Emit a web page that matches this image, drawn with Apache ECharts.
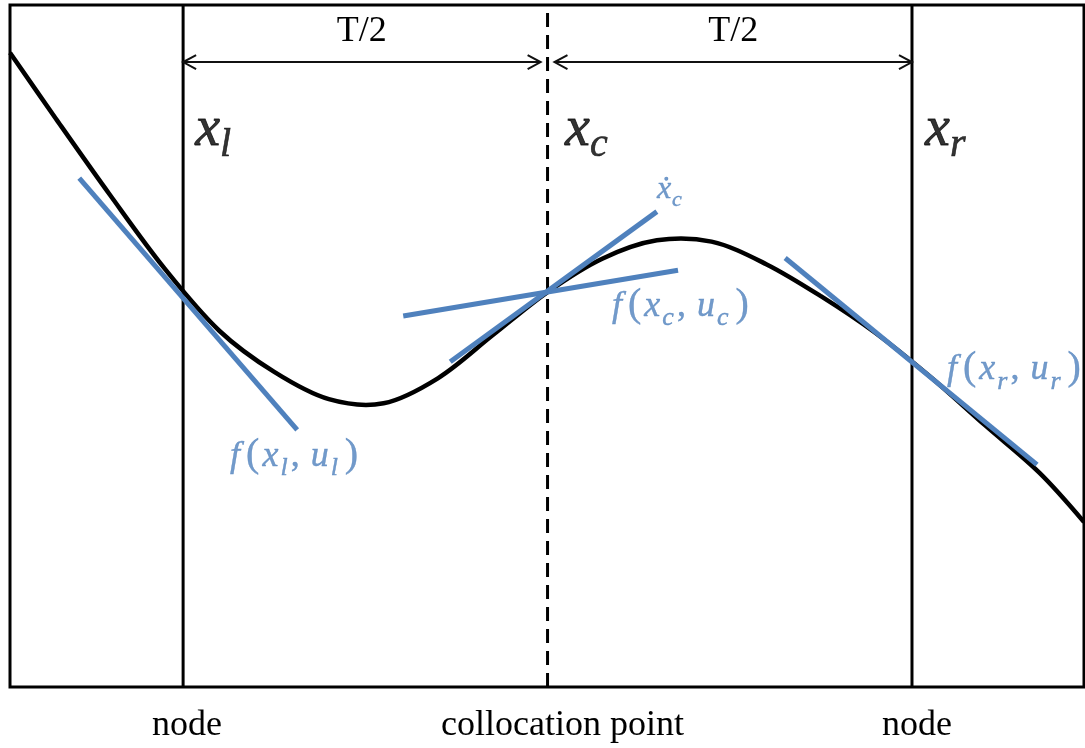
<!DOCTYPE html>
<html>
<head>
<meta charset="utf-8">
<script src="https://cdn.jsdelivr.net/npm/echarts@6/dist/echarts.min.js"></script>
<style>
  html, body { margin: 0; padding: 0; background: #ffffff; }
  #chart { width: 1085px; height: 748px; }
</style>
</head>
<body>
<div id="chart"></div>
<script>
// Time axis in units of T/2: left node = 0, collocation point = 1, right node = 2
const timeRange = [-0.475, 2.472];
const stateRange = [0, 10];

const nodeTimes = [0, 1, 2];
const nodeCaptions = ['node', 'collocation point', 'node'];
const nodeSubscripts = ['l', 'c', 'r'];

// State trajectory x(t)
const trajTime = [-0.475, -0.35, -0.2, -0.05, 0.1, 0.25, 0.4, 0.55, 0.7, 0.85, 1.0,
                  1.15, 1.3, 1.45, 1.6, 1.75, 1.9, 2.05, 2.2, 2.35, 2.472];
const trajState = [9.30, 8.34, 7.21, 6.13, 5.22, 4.62, 4.22, 4.16, 4.53, 5.16, 5.79,
                   6.28, 6.55, 6.53, 6.20, 5.73, 5.19, 4.55, 3.84, 3.14, 2.42];

// Slope segments: dynamics f(x,u) at each node, and the derivative of the interpolant at x_c
const slopeAtLeft   = [[-0.285, 7.46], [0.313, 3.77]];
const slopeAtCenter = [[0.604, 5.44], [1.358, 6.11]];
const derivAtCenter = [[0.733, 4.77], [1.300, 6.97]];
const slopeAtRight  = [[1.652, 6.29], [2.343, 3.26]];

// Interval dimensions [start, end, level]
const spans = [[0, 0.981, 9.164], [1.019, 2, 9.164]];
const spanLabels = ['T/2', 'T/2'];

const BLUE = '#4f81bd';
const INK = '#000000';
const MATH = "'Liberation Serif', 'DejaVu Serif', serif";

const bigRich = {
  v: { fontFamily: MATH, fontStyle: 'italic', fontSize: 56, color: INK, textBorderColor: INK, textBorderWidth: 0.8 },
  s: { fontFamily: MATH, fontStyle: 'italic', fontSize: 40, color: INK, textBorderColor: INK, textBorderWidth: 0.6,
       padding: [32, 0, 0, 0] }
};
const blueLine = { color: BLUE, textBorderColor: BLUE, textBorderWidth: 0.4 };
const blueRich = {
  f: Object.assign({ fontFamily: MATH, fontStyle: 'italic', fontSize: 36, padding: [2.4, 4, 0, 0] }, blueLine),
  v: Object.assign({ fontFamily: MATH, fontStyle: 'italic', fontSize: 36, padding: [2.4, 1, 0, 1] }, blueLine),
  p: Object.assign({ fontFamily: MATH, fontSize: 40, padding: [0, 2, 0, 2] }, blueLine),
  q: Object.assign({ fontFamily: MATH, fontSize: 40, padding: [0, 0, 0, 5] }, blueLine),
  c: Object.assign({ fontFamily: MATH, fontSize: 36, padding: [2.4, 10, 0, 1] }, blueLine),
  s: Object.assign({ fontFamily: MATH, fontStyle: 'italic', fontSize: 26, padding: [26.6, 2, 0, 1] }, blueLine),
  dv: Object.assign({ fontFamily: MATH, fontStyle: 'italic', fontSize: 32 }, blueLine),
  ds: Object.assign({ fontFamily: MATH, fontStyle: 'italic', fontSize: 22, padding: [22, 0, 0, 1] }, blueLine)
};

function stateText(sub) { return '{v|x}{s|' + sub + '}'; }
function dynText(sub) {
  return '{f|f}{p|(}{v|x}{s|' + sub + '}{c|,}{v|u}{s|' + sub + '}{q|)}';
}

const stateLabelAt = [[0.033, 8.17], [1.048, 8.17], [2.036, 8.17]];
const dynLabelAt = [[0.129, 3.40], [1.177, 5.60], [2.096, 4.67]];
const rateLabelAt = [1.300, 7.30];

function segmentSeries(name, pts, color, width, z) {
  return {
    name: name, type: 'line', data: pts, symbol: 'none', z: z, silent: true,
    lineStyle: { color: color, width: width, cap: 'butt' }
  };
}

const nodeLines = nodeTimes.map(function (t, i) {
  return {
    type: 'line', data: [[t, stateRange[0]], [t, stateRange[1]]], symbol: 'none', z: 2, silent: true,
    lineStyle: { color: INK, width: 3, type: i === 1 ? [14, 8] : 'solid', cap: 'butt' }
  };
});

const annotationData = [];
nodeSubscripts.forEach(function (sub, i) {
  annotationData.push({ value: stateLabelAt[i], label: { formatter: stateText(sub), rich: bigRich } });
  annotationData.push({ value: dynLabelAt[i], label: { formatter: dynText(sub), rich: blueRich } });
});
annotationData.push({ value: rateLabelAt, label: { formatter: '{dv|ẋ}{ds|c}', rich: blueRich } });

const captionStyle = { fontFamily: 'Liberation Serif', fontSize: 36, color: INK };

const chart = echarts.init(document.getElementById('chart'));
chart.setOption({
  animation: false,
  backgroundColor: '#ffffff',
  grid: {
    left: 10, right: 1, top: 5, bottom: 61,
    show: true, borderColor: INK, borderWidth: 3, backgroundColor: 'transparent'
  },
  xAxis: {
    type: 'value', min: timeRange[0], max: timeRange[1],
    axisLine: { show: false }, axisTick: { show: false }, splitLine: { show: false },
    axisLabel: {
      customValues: nodeTimes,
      margin: 21,
      formatter: function (v) {
        const i = nodeTimes.indexOf(v);
        return i < 0 ? '' : '{n' + i + '|' + nodeCaptions[i] + '}';
      },
      rich: {
        n0: Object.assign({ padding: [0, 0, 0, 8] }, captionStyle),
        n1: Object.assign({ padding: [0, 0, 0, 30] }, captionStyle),
        n2: Object.assign({ padding: [0, 0, 0, 10] }, captionStyle)
      }
    }
  },
  yAxis: {
    type: 'value', min: stateRange[0], max: stateRange[1],
    axisLine: { show: false }, axisTick: { show: false }, splitLine: { show: false }, axisLabel: { show: false }
  },
  series: nodeLines.concat([
    {
      // trajectory drawn as one spline through the sampled states
      name: 'x(t)', type: 'custom', z: 3, silent: true,
      data: trajTime.map(function (t, i) { return [t, trajState[i]]; }),
      renderItem: function (params, api) {
        if (params.dataIndex !== 0) return null;
        const pts = trajTime.map(function (t, i) { return api.coord([t, trajState[i]]); });
        return {
          type: 'polyline',
          shape: { points: pts, smooth: 0.33 },
          style: { stroke: INK, lineWidth: 4.5, fill: null, lineJoin: 'round' }
        };
      }
    },
    segmentSeries('f(x_l,u_l)', slopeAtLeft, BLUE, 5, 4),
    segmentSeries('f(x_c,u_c)', slopeAtCenter, BLUE, 5, 4),
    segmentSeries('xdot_c', derivAtCenter, BLUE, 5, 4),
    segmentSeries('f(x_r,u_r)', slopeAtRight, BLUE, 5, 4),
    {
      name: 'spans', type: 'custom', z: 5, silent: true,
      data: spans,
      renderItem: function (params, api) {
        const a = api.coord([api.value(0), api.value(2)]);
        const b = api.coord([api.value(1), api.value(2)]);
        const h = 13, w = 7;
        const st = { stroke: '#111111', lineWidth: 2, fill: null };
        return {
          type: 'group',
          children: [
            { type: 'line', shape: { x1: a[0], y1: a[1], x2: b[0], y2: b[1] }, style: st },
            { type: 'polyline', shape: { points: [[a[0] + h, a[1] - w], [a[0], a[1]], [a[0] + h, a[1] + w]] }, style: st },
            { type: 'polyline', shape: { points: [[b[0] - h, b[1] - w], [b[0], b[1]], [b[0] - h, b[1] + w]] }, style: st },
            {
              type: 'text', x: (a[0] + b[0]) / 2, y: a[1] - 30,
              style: {
                text: spanLabels[params.dataIndex], fill: INK,
                font: '36px "Liberation Serif"', align: 'center', verticalAlign: 'middle'
              }
            }
          ]
        };
      }
    },
    {
      name: 'labels', type: 'scatter', z: 6, silent: true, symbolSize: 0, clip: false,
      data: annotationData,
      label: { show: true, position: 'right', distance: 0 }
    }
  ])
});
</script>
</body>
</html>
